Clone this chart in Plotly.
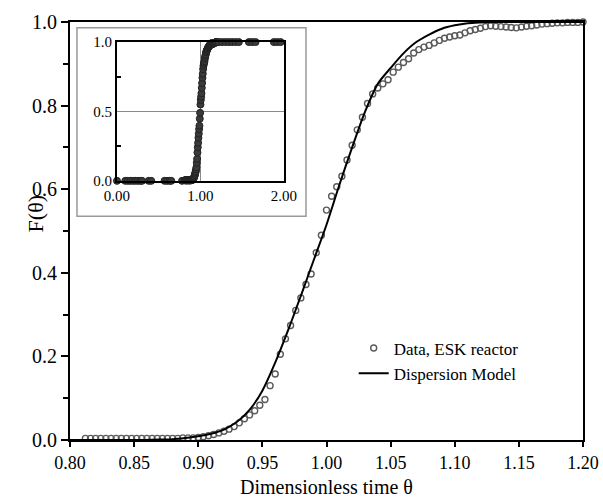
import plotly.graph_objects as go

# ---- main data: measured F(theta) ----
data_theta = [0.812, 0.816, 0.820, 0.824, 0.828, 0.832, 0.836, 0.840, 0.844, 0.848,
              0.852, 0.856, 0.860, 0.864, 0.868, 0.872, 0.876, 0.880, 0.884, 0.888,
              0.892, 0.896, 0.900, 0.904, 0.908, 0.912, 0.916, 0.920, 0.924, 0.928,
              0.932, 0.936, 0.940, 0.944, 0.948, 0.952, 0.956, 0.960, 0.964, 0.968,
              0.972, 0.976, 0.980, 0.984, 0.988, 0.992, 0.996, 1.000, 1.004, 1.008,
              1.012, 1.016, 1.020, 1.024, 1.028, 1.032, 1.036, 1.040, 1.044, 1.048,
              1.052, 1.056, 1.060, 1.064, 1.068, 1.072, 1.076, 1.080, 1.084, 1.088,
              1.092, 1.096, 1.100, 1.104, 1.108, 1.112, 1.116, 1.120, 1.124, 1.128,
              1.132, 1.136, 1.140, 1.144, 1.148, 1.152, 1.156, 1.160, 1.164, 1.168,
              1.172, 1.176, 1.180, 1.184, 1.188, 1.192, 1.196, 1.200]
data_F = [0.004, 0.004, 0.004, 0.004, 0.004, 0.004, 0.004, 0.004, 0.004, 0.004,
          0.004, 0.004, 0.004, 0.004, 0.004, 0.004, 0.004, 0.004, 0.004, 0.005,
          0.005, 0.005, 0.006, 0.008, 0.010, 0.013, 0.017, 0.021, 0.026, 0.032,
          0.041, 0.051, 0.060, 0.070, 0.083, 0.097, 0.130, 0.158, 0.205, 0.242,
          0.274, 0.310, 0.340, 0.372, 0.397, 0.448, 0.490, 0.550, 0.583, 0.606,
          0.631, 0.670, 0.705, 0.742, 0.772, 0.805, 0.828, 0.842, 0.852, 0.862,
          0.880, 0.892, 0.903, 0.912, 0.926, 0.934, 0.940, 0.944, 0.950, 0.956,
          0.961, 0.964, 0.967, 0.969, 0.974, 0.979, 0.982, 0.985, 0.989, 0.991,
          0.990, 0.989, 0.988, 0.987, 0.986, 0.988, 0.990, 0.991, 0.993, 0.995,
          0.996, 0.997, 0.998, 0.998, 0.999, 0.999, 0.999, 1.000]

# ---- dispersion model ----
model_theta = [0.80, 0.85, 0.87, 0.88, 0.89, 0.90, 0.91, 0.92, 0.93, 0.94, 0.95,
               0.96, 0.97, 0.98, 0.99, 1.00, 1.01, 1.02, 1.03, 1.04, 1.05, 1.06,
               1.07, 1.08, 1.09, 1.10, 1.11, 1.12, 1.13, 1.20]
model_F = [0.000, 0.000, 0.001, 0.002, 0.005, 0.009, 0.015, 0.025, 0.043, 0.072, 0.118,
           0.185, 0.262, 0.345, 0.430, 0.515, 0.610, 0.700, 0.785, 0.852, 0.890, 0.925,
           0.952, 0.970, 0.984, 0.992, 0.997, 0.999, 1.000, 1.000]

# ---- inset: extra points outside main range ----
inset_lo_theta = [0.00, 0.10, 0.13, 0.16, 0.19, 0.22, 0.25, 0.28, 0.30, 0.38, 0.41,
                  0.57, 0.60, 0.63, 0.65, 0.78]
inset_lo_F = [0.0] * len(inset_lo_theta)
inset_hi_theta = [1.22, 1.26, 1.30, 1.34, 1.38, 1.42, 1.46, 1.58, 1.62, 1.66,
                  1.88, 1.92, 1.96]
inset_hi_F = [1.0] * len(inset_hi_theta)

x_ticks = [0.80, 0.85, 0.90, 0.95, 1.00, 1.05, 1.10, 1.15, 1.20]
y_ticks = [0.0, 0.2, 0.4, 0.6, 0.8, 1.0]
inset_x_ticks = [0.0, 1.0, 2.0]
inset_y_ticks = [0.0, 0.5, 1.0]

FONT = "Liberation Serif"

fig = go.Figure()
fig.add_trace(go.Scatter(
    x=data_theta, y=data_F, mode="markers", name="Data, ESK reactor",
    marker=dict(symbol="circle-open", size=6, color="#5a5a5a", line=dict(width=1.4)),
    cliponaxis=False))
fig.add_trace(go.Scatter(
    x=model_theta, y=model_F, mode="lines", name="Dispersion Model",
    line=dict(color="black", width=2, shape="spline", smoothing=0.8)))

inset_x = inset_lo_theta + data_theta + inset_hi_theta
inset_y = inset_lo_F + data_F + inset_hi_F
fig.add_trace(go.Scatter(
    x=inset_x, y=inset_y, mode="markers", showlegend=False,
    xaxis="x2", yaxis="y2",
    marker=dict(symbol="circle", size=7, color="#3a3a3a", line=dict(width=1, color="#222")),
    cliponaxis=False))

axis_common = dict(showline=True, linecolor="black", linewidth=2, mirror=True,
                   showgrid=False, zeroline=False, automargin=False)

fig.update_layout(
    width=603, height=501,
    margin=dict(l=70, r=20, t=22, b=61),
    paper_bgcolor="white", plot_bgcolor="white",
    font=dict(family=FONT, color="black"),
    xaxis=dict(range=[0.8, 1.2], tickvals=x_ticks,
               ticktext=[f"{v:.2f}" for v in x_ticks],
               ticks="outside", ticklen=5, tickwidth=1.5, tickcolor="black",
               tickfont=dict(family=FONT, size=18, color="black"),
               **axis_common),
    yaxis=dict(range=[0, 1], tickvals=y_ticks,
               ticktext=[f"{v:.1f}" for v in y_ticks],
               ticks="outside", ticklen=7, tickwidth=1.5, tickcolor="black",
               tickfont=dict(family=FONT, size=20, color="black"),
               minor=dict(tickvals=[0.1, 0.3, 0.5, 0.7, 0.9], ticks="outside",
                          ticklen=5, tickwidth=1.5, tickcolor="black"),
               **axis_common),
    xaxis2=dict(domain=[0.0916, 0.417], anchor="y2", range=[0, 2],
                tickvals=inset_x_ticks, ticktext=[f"{v:.2f}" for v in inset_x_ticks],
                ticks="", showline=True, linecolor="black", linewidth=2, mirror=True,
                showgrid=True, gridcolor="#8a8a8a", gridwidth=1, zeroline=False,
                automargin=False,
                tickfont=dict(family=FONT, size=15, color="black")),
    yaxis2=dict(domain=[0.62, 0.952], anchor="x2", range=[0, 1],
                tickvals=inset_y_ticks, ticktext=[f"{v:.1f}" for v in inset_y_ticks],
                ticks="", showline=True, linecolor="black", linewidth=2, mirror=True,
                showgrid=True, gridcolor="#8a8a8a", gridwidth=1, zeroline=False,
                automargin=False,
                minor=dict(tickvals=[0.25, 0.75], ticks="inside", ticklen=4,
                           tickwidth=1.5, tickcolor="black"),
                tickfont=dict(family=FONT, size=15, color="black")),
    legend=dict(x=0.553, y=0.262, xanchor="left", yanchor="top",
                bgcolor="rgba(0,0,0,0)", font=dict(family=FONT, size=17),
                itemwidth=30),
    showlegend=True,
)

fig.add_annotation(text="F(θ)", xref="paper", yref="paper", x=-0.068, y=0.54,
                   textangle=-90, showarrow=False, font=dict(family=FONT, size=22),
                   xanchor="center", yanchor="middle")
fig.add_annotation(text="Dimensionless time θ", xref="paper", yref="paper",
                   x=0.5, y=-0.112, showarrow=False,
                   font=dict(family=FONT, size=20),
                   xanchor="center", yanchor="middle")

fig.add_shape(type="rect", xref="paper", yref="paper",
              x0=0.0136, x1=0.46, y0=0.535, y1=0.986,
              line=dict(color="#9a9a9a", width=1.5), fillcolor="white", layer="below")

fig.write_html("out.html")
